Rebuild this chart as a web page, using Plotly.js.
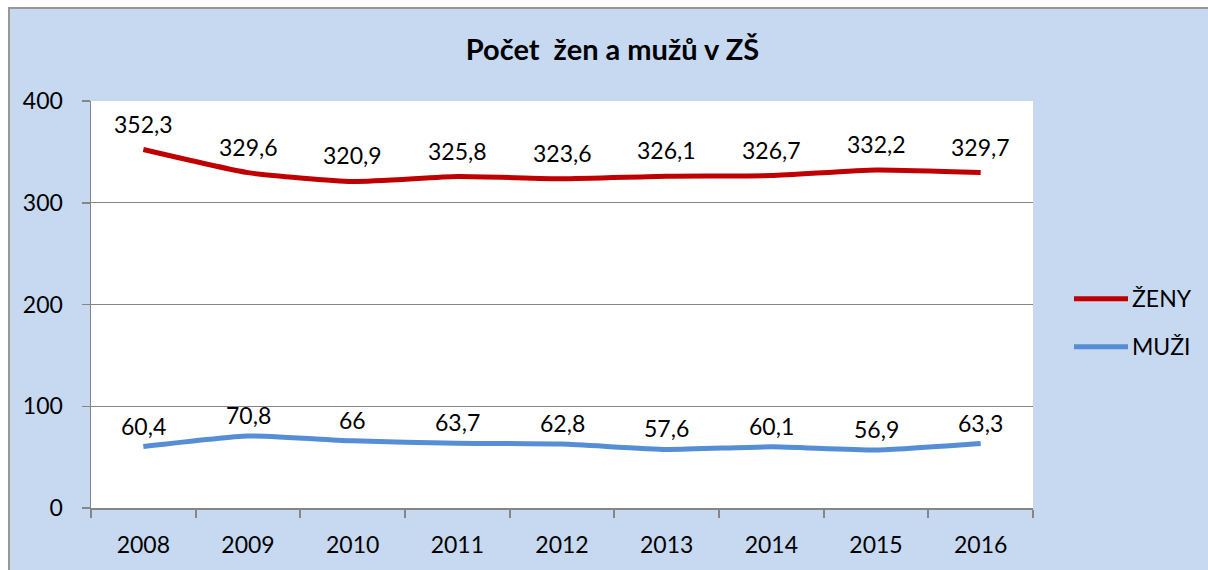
<!DOCTYPE html>
<html>
<head>
<meta charset="utf-8">
<script src="https://cdn.plot.ly/plotly-3.0.1.min.js"></script>
<style>
  html, body { margin: 0; padding: 0; background: #ffffff; overflow: hidden; width: 1208px; height: 570px; }
  #frame { position: absolute; left: 8px; top: 7px; width: 1400px; height: 700px;
           background: #c6d9f1; border: 2px solid #979797; box-sizing: border-box; }
  #chart { position: absolute; left: 0; top: 0; width: 1208px; height: 570px; }
</style>
</head>
<body>
<div id="frame"></div>
<div id="chart"></div>
<script>
const years = ['2008','2009','2010','2011','2012','2013','2014','2015','2016'];
const zeny = [352.3, 329.6, 320.9, 325.8, 323.6, 326.1, 326.7, 332.2, 329.7];
const muzi = [60.4, 70.8, 66, 63.7, 62.8, 57.6, 60.1, 56.9, 63.3];
const seriesNames = ['ŽENY', 'MUŽI'];
const yTicks = [0, 100, 200, 300, 400];

const fmt = v => String(v).replace('.', ',');
const FONT = 'Lato, "Open Sans", sans-serif';
const FS = 23;

function trace(name, vals, color) {
  return {
    x: years, y: vals, name: name, type: 'scatter', mode: 'lines',
    line: { color: color, width: 5, shape: 'spline', smoothing: 0.5 },
    hoverinfo: 'x+y', showlegend: false
  };
}

const data = [
  trace(seriesNames[0], zeny, '#c00000'),
  trace(seriesNames[1], muzi, '#558ed5')
];

// data labels, placed through the axes (category index of each year)
const labelAnns = [];
[[zeny, 26], [muzi, 21]].forEach(([vals, shift]) => {
  vals.forEach((v, i) => labelAnns.push({
    x: years.indexOf(years[i]), y: v, xref: 'x', yref: 'y', yshift: shift, showarrow: false,
    text: fmt(v), xanchor: 'center', yanchor: 'middle',
    font: { family: FONT, size: FS, color: '#000000' }
  }));
});

// custom legend (paper coords relative to plot area 91..1033 x, 101..508 y)
const W = 942, H = 406.5, L = 91, B = 508;
const px = v => (v - L) / W, py = v => (B - v) / H;
const legend = [
  { name: seriesNames[0], color: '#c00000', y: 299 },
  { name: seriesNames[1], color: '#558ed5', y: 347 }
];
const shapes = legend.map(it => ({
  type: 'line', xref: 'paper', yref: 'paper',
  x0: px(1074), x1: px(1128), y0: py(it.y), y1: py(it.y),
  line: { color: it.color, width: 5 }
}));
const legendAnns = legend.map(it => ({
  xref: 'paper', yref: 'paper', x: px(1130), y: py(it.y - 1),
  xanchor: 'left', yanchor: 'middle', showarrow: false, text: it.name,
  font: { family: FONT, size: FS, color: '#000000' }
}));

const layout = {
  width: 1208, height: 570,
  paper_bgcolor: 'rgba(0,0,0,0)', plot_bgcolor: '#ffffff',
  margin: { l: 91, r: 175, t: 101, b: 62 },
  title: { text: '<b>Počet  žen a mužů v ZŠ</b>', x: 0.507, xanchor: 'center',
           y: 0.912, yanchor: 'middle', font: { family: FONT, size: 29, color: '#000000' } },
  xaxis: {
    type: 'category', categoryarray: years, range: [-0.5, years.length - 0.5], autorange: false,
    tickson: 'boundaries', ticks: 'outside', ticklen: 8, tickangle: 0,
    tickcolor: '#868686', tickwidth: 2, showline: true, linecolor: '#868686', linewidth: 1.5,
    showgrid: false, tickfont: { family: FONT, size: FS, color: '#000000' },
    ticklabelstandoff: 16, fixedrange: true
  },
  yaxis: {
    range: [0, 400], autorange: false, tickvals: yTicks, ticktext: yTicks.map(String),
    ticks: 'outside', ticklen: 8, tickcolor: '#868686', tickwidth: 1.5,
    showline: true, linecolor: '#868686', linewidth: 1.5,
    showgrid: true, gridcolor: '#868686', gridwidth: 1.2, zeroline: false,
    tickfont: { family: FONT, size: FS, color: '#000000' }, ticklabelstandoff: 14, fixedrange: true
  },
  shapes: shapes, annotations: labelAnns.concat(legendAnns), showlegend: false
};

Plotly.newPlot('chart', data, layout, { displayModeBar: false, staticPlot: true });
</script>
</body>
</html>
